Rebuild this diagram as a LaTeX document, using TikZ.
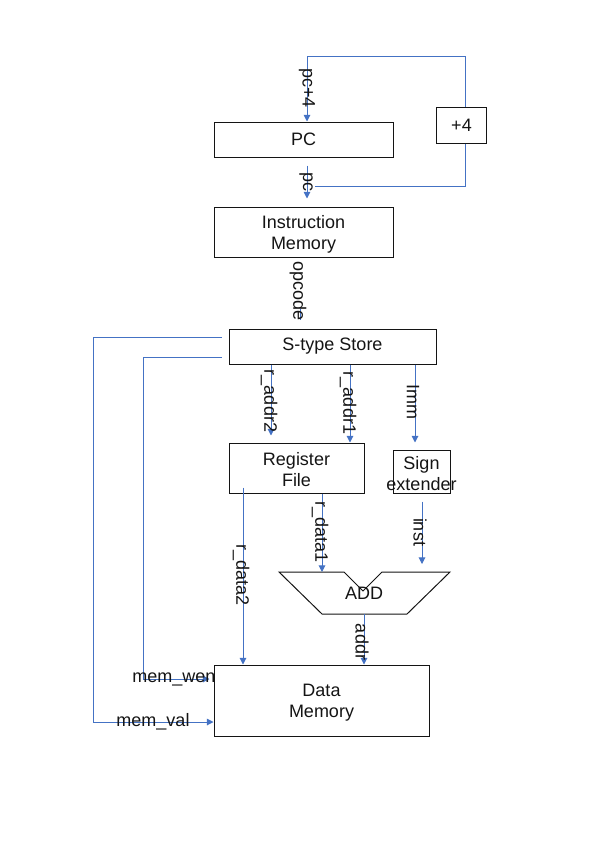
\documentclass[tikz,border=0pt]{standalone}
\usepackage{fontspec}
\setmainfont{Liberation Sans}
\usetikzlibrary{arrows.meta,calc}
\definecolor{wire}{RGB}{68,114,196}
\definecolor{ink}{RGB}{20,20,20}
\begin{document}
\begin{tikzpicture}[x=0.75pt,y=-0.75pt,
  txt/.style={font=\fontsize{13.5}{15.75}\selectfont,text=ink,inner sep=0pt,align=center},
  box/.style={txt,draw=ink,line width=0.75pt},
  inner/.style={label={[txt,yshift=-1.5pt]center:#1}},
  sig/.style={txt,rotate=-90},
  wireline/.style={draw=wire,line width=0.75pt},
  arr/.style={wireline,-{Triangle[length=5pt,width=5pt]}}]
\useasboundingbox (0,0) rectangle (600,849);

% blocks
\node[box,minimum width=134.25pt,minimum height=26.25pt] (pc) at (303.5,139.5) {PC};
\node[box,minimum width=37.5pt,minimum height=27pt] (p4) at (461.5,125) {+4};
\node[box,minimum width=134.25pt,minimum height=37.5pt,
      inner={Instruction\\Memory}] (im) at (303.5,232) {};
\node[box,minimum width=155.25pt,minimum height=26.25pt] (st) at (332.5,346.5) {S-type Store};
\node[box,minimum width=101.25pt,minimum height=37.5pt,
      inner={Register\\File}] (rf) at (296.5,468) {};
\node[box,minimum width=42.75pt,minimum height=32.25pt,
      inner={Sign\\extender}] (sx) at (421.5,471.5) {};
\node[box,minimum width=161.25pt,minimum height=53.25pt,
      inner={Data\\Memory}] (dm) at (321.5,700.5) {};

% adder with its notched top edge
\coordinate (addL) at (279,572);
\coordinate (addR) at (450,572);
\coordinate (addIn1) at (322,572);
\coordinate (addIn2) at (422,564);
\coordinate (addOut) at (364,614);
\draw[draw=ink,line width=0.75pt] (addL) -- (344,572) -- (363,591) -- (382,572) -- (addR)
  -- (407,614) -- (322,614) -- cycle;
\node[txt] (add) at (364,593) {ADD};

% program counter loop
\draw[arr] ($(p4.north)+(3.5,0)$) |- (307,57) -- ($(pc.north)+(3.5,0)$);
\coordinate (pcJoin) at (315,186);
\draw[wireline] ($(p4.south)+(3.5,0)$) |- (pcJoin);
\draw[arr] ($(pc.south)+(3.5,8)$) -- ($(im.north)+(3.5,-8)$);
\draw[wireline] ($(im.south)+(-3.5,51)$) -- ($(st.north)+(-32.5,-9)$);

% decode outputs
\draw[arr] ($(st.south)+(-61.5,0)$) -- ($(rf.north)+(-25.5,-7)$);
\draw[arr] ($(st.south)+(17.5,0)$) -- ($(rf.north)+(53.5,0)$);
\draw[arr] ($(st.south)+(82.5,0)$) -- ($(sx.north)+(-6.5,-7)$);

% datapath to memory
\draw[arr] ($(rf.south)+(-53.5,-6)$) -- ($(dm.north)+(-78.5,0)$);
\draw[arr] ($(rf.south)+(25.5,0)$) -- (addIn1);
\draw[arr] ($(sx.south)+(0.5,8)$) -- (addIn2);
\draw[arr] (addOut) -- ($(dm.north)+(42.5,0)$);

% control lines
\draw[arr] ($(st.west)+(-7,10.5)$) -| (143,679) -- ($(dm.west)+(-4,-21.5)$);
\draw[arr] ($(st.west)+(-7,-9.5)$) -| (93,722) -- ($(dm.west)+(0,21.5)$);

% signal names
\node[sig] (lpc4) at (307,88) {pc+4};
\node[sig] (lpc) at (306,182) {pc};
\node[sig] (lop) at (298,291) {opcode};
\node[sig] (lra2) at (269,401) {r\_addr2};
\node[sig] (lra1) at (348,403) {r\_addr1};
\node[sig] (limm) at (413,402) {Imm};
\node[sig] (lrd2) at (241,575) {r\_data2};
\node[sig] (lrd1) at (320,532) {r\_data1};
\node[sig] (linst) at (420,532) {inst};
\node[sig] (laddr) at (362,642) {addr};
\node[txt] (lwen) at (174,679) {mem\_wen};
\node[txt] (lval) at (153,722) {mem\_val};
\end{tikzpicture}
\end{document}
